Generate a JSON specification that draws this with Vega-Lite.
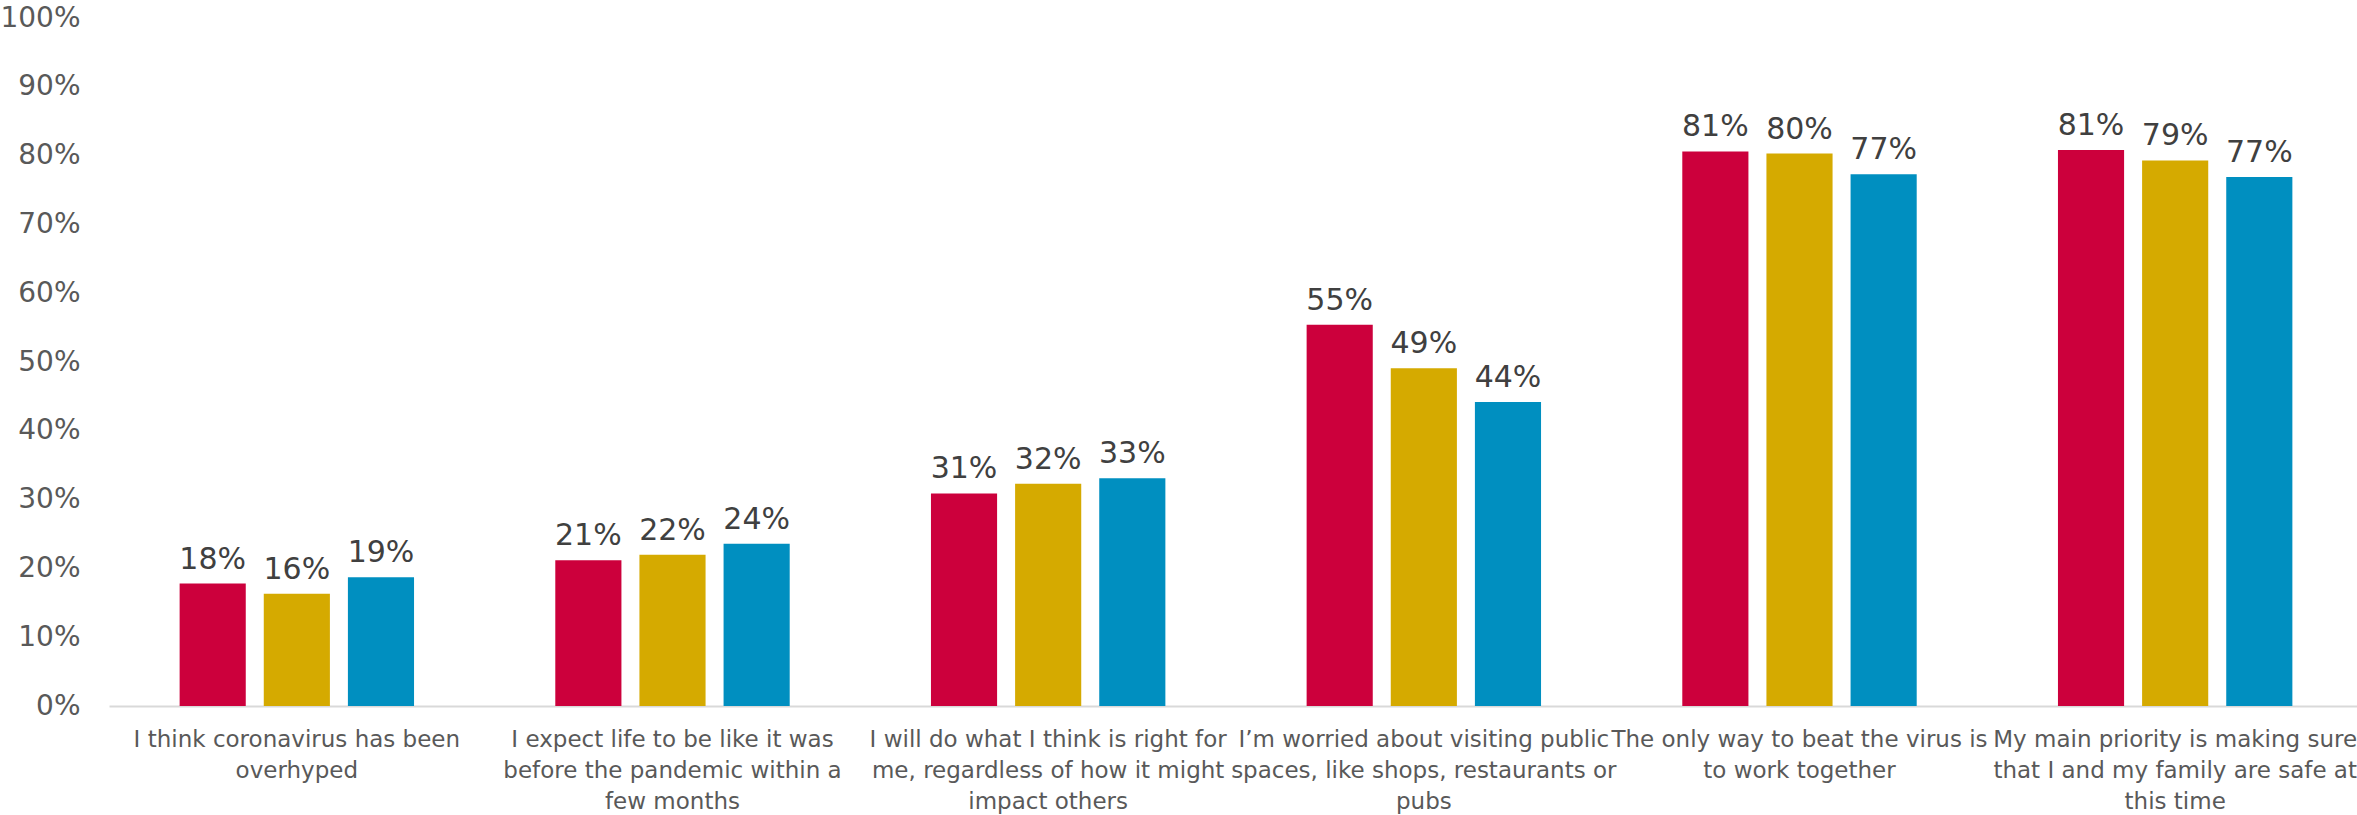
{
  "$schema": "https://vega.github.io/schema/vega-lite/v6.json",
  "width": 2254,
  "height": 688,
  "autosize": {"type": "none"},
  "padding": {"left": 109, "top": 18, "right": 0, "bottom": 109},
  "config": {"view": {"stroke": null}, "font": "DejaVu Sans"},
  "data": {
    "values": [
      {"statement": "I think coronavirus has been overhyped", "series": "A", "value": 0.178},
      {"statement": "I think coronavirus has been overhyped", "series": "B", "value": 0.163},
      {"statement": "I think coronavirus has been overhyped", "series": "C", "value": 0.187},
      {"statement": "I expect life to be like it was before the pandemic within a few months", "series": "A", "value": 0.212},
      {"statement": "I expect life to be like it was before the pandemic within a few months", "series": "B", "value": 0.22},
      {"statement": "I expect life to be like it was before the pandemic within a few months", "series": "C", "value": 0.236},
      {"statement": "I will do what I think is right for me, regardless of how it might impact others", "series": "A", "value": 0.309},
      {"statement": "I will do what I think is right for me, regardless of how it might impact others", "series": "B", "value": 0.323},
      {"statement": "I will do what I think is right for me, regardless of how it might impact others", "series": "C", "value": 0.331},
      {"statement": "I’m worried about visiting public spaces, like shops, restaurants or pubs", "series": "A", "value": 0.554},
      {"statement": "I’m worried about visiting public spaces, like shops, restaurants or pubs", "series": "B", "value": 0.491},
      {"statement": "I’m worried about visiting public spaces, like shops, restaurants or pubs", "series": "C", "value": 0.442},
      {"statement": "The only way to beat the virus is to work together", "series": "A", "value": 0.806},
      {"statement": "The only way to beat the virus is to work together", "series": "B", "value": 0.803},
      {"statement": "The only way to beat the virus is to work together", "series": "C", "value": 0.773},
      {"statement": "My main priority is making sure that I and my family are safe at this time", "series": "A", "value": 0.808},
      {"statement": "My main priority is making sure that I and my family are safe at this time", "series": "B", "value": 0.793},
      {"statement": "My main priority is making sure that I and my family are safe at this time", "series": "C", "value": 0.769}
    ]
  },
  "encoding": {
    "x": {
      "field": "statement",
      "type": "nominal",
      "sort": null,
      "scale": {"paddingInner": 0.376, "paddingOuter": 0.188},
      "axis": {
        "title": null,
        "ticks": false,
        "domain": true,
        "domainColor": "#D9D9D9",
        "domainWidth": 2,
        "labelAngle": 0,
        "labelFontSize": 23,
        "labelColor": "#595959",
        "labelLineHeight": 31,
        "labelPadding": 22,
        "labelLimit": 600,
        "labelOverlap": false,
        "labelBound": false,
        "labelExpr": "datum.label == 'I think coronavirus has been overhyped' ? ['I think coronavirus has been', 'overhyped'] : datum.label == 'I expect life to be like it was before the pandemic within a few months' ? ['I expect life to be like it was', 'before the pandemic within a', 'few months'] : datum.label == 'I will do what I think is right for me, regardless of how it might impact others' ? ['I will do what I think is right for', 'me, regardless of how it might', 'impact others'] : datum.label == 'I’m worried about visiting public spaces, like shops, restaurants or pubs' ? ['I’m worried about visiting public', 'spaces, like shops, restaurants or', 'pubs'] : datum.label == 'The only way to beat the virus is to work together' ? ['The only way to beat the virus is', 'to work together'] : ['My main priority is making sure', 'that I and my family are safe at', 'this time']"
      }
    },
    "xOffset": {
      "field": "series",
      "type": "nominal",
      "sort": ["A", "B", "C"],
      "scale": {"paddingInner": 0.214, "paddingOuter": 0}
    },
    "y": {
      "field": "value",
      "type": "quantitative",
      "scale": {"domain": [0, 1]},
      "axis": {
        "title": null,
        "grid": false,
        "domain": false,
        "ticks": false,
        "values": [0, 0.1, 0.2, 0.3, 0.4, 0.5, 0.6, 0.7, 0.8, 0.9, 1],
        "format": ".0%",
        "labelFontSize": 28,
        "labelColor": "#595959",
        "labelPadding": 29
      }
    }
  },
  "layer": [
    {
      "mark": {"type": "bar"},
      "encoding": {
        "color": {
          "field": "series",
          "type": "nominal",
          "scale": {"domain": ["A", "B", "C"], "range": ["#CC003C", "#D5AA00", "#008FC0"]},
          "legend": null
        }
      }
    },
    {
      "mark": {"type": "text", "baseline": "alphabetic", "dy": -15, "fontSize": 30, "color": "#404040"},
      "encoding": {
        "text": {"field": "value", "type": "quantitative", "format": ".0%"}
      }
    }
  ]
}
